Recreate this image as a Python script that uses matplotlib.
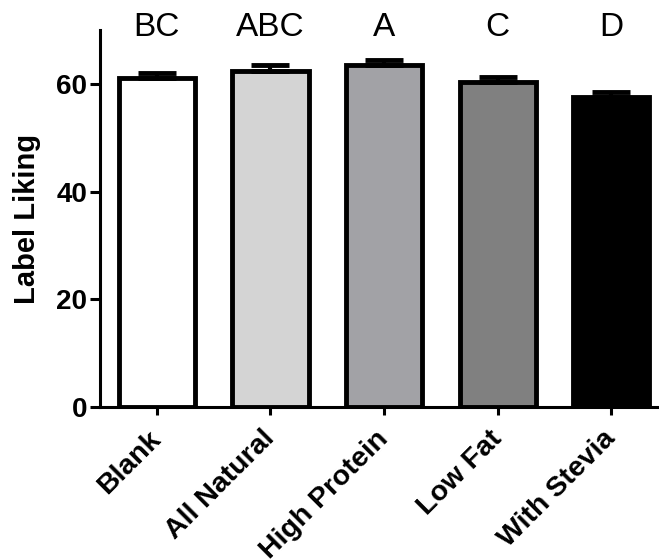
import matplotlib
matplotlib.use("Agg")
import matplotlib.pyplot as plt
import numpy as np

plt.rcParams['font.family'] = ['Liberation Sans', 'DejaVu Sans']

labels = ["Blank", "All Natural", "High Protein", "Low Fat", "With Stevia"]
means = [61.2, 62.4, 63.5, 60.3, 57.5]
errs = [0.9, 1.1, 1.0, 1.0, 1.1]
groups = ["BC", "ABC", "A", "C", "D"]
colors = ["#ffffff", "#d4d4d4", "#a2a2a6", "#808080", "#000000"]

fig = plt.figure(figsize=(6.59, 5.6), dpi=100)
ax = fig.add_axes([0.1517, 0.2732, 0.845, 0.6729])

x = np.arange(len(labels))
ax.bar(x, means, width=0.67, color=colors, edgecolor="black", linewidth=3.5, zorder=2)
ax.errorbar(x, means, yerr=[np.zeros(len(errs)), errs], fmt="none", ecolor="black",
            elinewidth=3, capsize=14, capthick=3.5, zorder=3)

for xi, g in zip(x, groups):
    ax.text(xi, 69, g, ha="center", va="baseline", fontsize=24, clip_on=False)

ax.set_xlim(-0.5, 4.4)
ax.set_ylim(0, 70)
ax.set_yticks([0, 20, 40, 60])
ax.set_xticks(x)
ax.set_xticklabels(labels, rotation=45, ha="right", va="center", rotation_mode="anchor",
                   fontsize=20.5, fontweight="bold")
for t in ax.get_yticklabels():
    t.set_fontsize(20)
    t.set_fontweight("bold")
ax.set_ylabel("Label Liking", fontsize=21, fontweight="bold", labelpad=11)

for s in ["top", "right"]:
    ax.spines[s].set_visible(False)
for s in ["left", "bottom"]:
    ax.spines[s].set_linewidth(2.2)
ax.tick_params(axis="y", length=7, width=2.2, pad=2)
ax.tick_params(axis="x", length=6, width=2.2, pad=14)

fig.savefig("out.png", dpi=100)
